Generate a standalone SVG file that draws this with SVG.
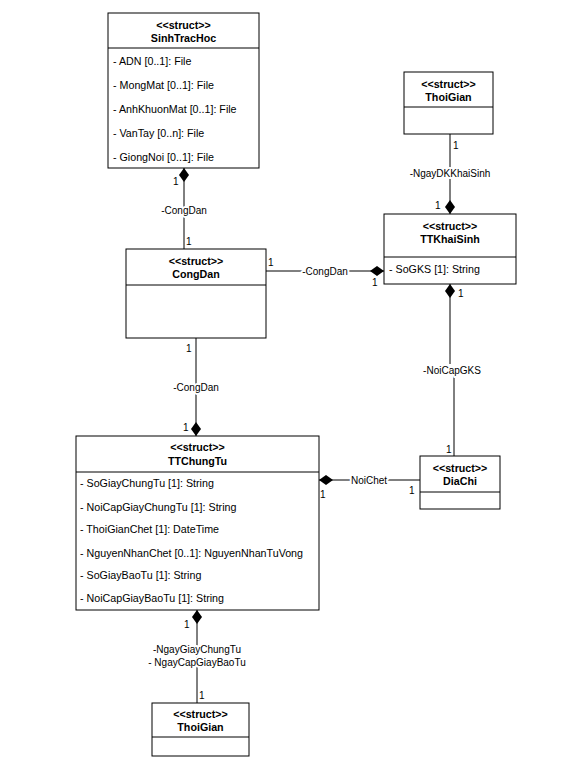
<svg xmlns="http://www.w3.org/2000/svg" width="575" height="775" viewBox="0 0 575 775">
<style>
text{font-family:"Liberation Sans",Arial,sans-serif;fill:#000}
.box{fill:#fff;stroke:#000;stroke-width:1}
.sep{stroke:#000;stroke-width:1}
.h{font-size:10.7px;font-weight:bold;text-anchor:middle}
.a{font-size:10.7px}
.l{font-size:10px;text-anchor:middle;stroke:#fff;stroke-width:4px;paint-order:stroke;stroke-linejoin:round}
.m{font-size:10px}
.c{fill:none;stroke:#000;stroke-width:1;marker-start:url(#dia)}
</style>
<defs>
<marker id="dia" viewBox="0 -5 14 10" markerWidth="14" markerHeight="10" refX="0" refY="0" orient="auto" markerUnits="userSpaceOnUse" overflow="visible">
<path d="M0,0 L7,-5 L14,0 L7,5 Z" fill="#000"/>
</marker>
</defs>
<rect width="575" height="775" fill="#fff"/>

<g id="connectors">
<path class="c" d="M184,168 L184,249"/>
<text class="l" x="184" y="214">-CongDan</text>
<text class="m" x="173" y="185">1</text>
<text class="m" x="186" y="245">1</text>

<path class="c" d="M384,271 L266,271"/>
<text class="l" x="325" y="275">-CongDan</text>
<text class="m" x="268" y="266">1</text>
<text class="m" x="372" y="286">1</text>

<path class="c" d="M450,214 L450,134"/>
<text class="l" x="450" y="177">-NgayDKKhaiSinh</text>
<text class="m" x="453" y="149">1</text>
<text class="m" x="435" y="209">1</text>

<path class="c" d="M450,284 L450,364 M454,376 L454,456"/>
<text class="l" x="452" y="374">-NoiCapGKS</text>
<text class="m" x="458" y="297">1</text>
<text class="m" x="446" y="453">1</text>

<path class="c" d="M196,436 L196,338"/>
<text class="l" x="196" y="391">-CongDan</text>
<text class="m" x="186" y="352">1</text>
<text class="m" x="183" y="431">1</text>

<path class="c" d="M319,480 L420,480"/>
<text class="l" x="369" y="484">NoiChet</text>
<text class="m" x="320" y="498">1</text>
<text class="m" x="409" y="494">1</text>

<path class="c" d="M197,610 L197,703"/>
<text class="l" x="197" y="653">-NgayGiayChungTu</text>
<text class="l" x="197" y="666">- NgayCapGiayBaoTu</text>
<text class="m" x="184" y="628">1</text>
<text class="m" x="199" y="699">1</text>
</g>

<g id="SinhTracHoc">
<rect class="box" x="108" y="13" width="151" height="155"/>
<line class="sep" x1="108" y1="48" x2="259" y2="48"/>
<text class="h" x="183.5" y="29">&lt;&lt;struct&gt;&gt;</text>
<text class="h" x="183.5" y="42">SinhTracHoc</text>
<text class="a" x="113" y="65">- ADN [0..1]: File</text>
<text class="a" x="113" y="89">- MongMat [0..1]: File</text>
<text class="a" x="113" y="113">- AnhKhuonMat [0..1]: File</text>
<text class="a" x="113" y="137">- VanTay [0..n]: File</text>
<text class="a" x="113" y="161">- GiongNoi [0..1]: File</text>
</g>

<g id="ThoiGian1">
<rect class="box" x="404" y="72" width="89" height="62"/>
<line class="sep" x1="404" y1="107" x2="493" y2="107"/>
<text class="h" x="448.5" y="88">&lt;&lt;struct&gt;&gt;</text>
<text class="h" x="448.5" y="101">ThoiGian</text>
</g>

<g id="TTKhaiSinh">
<rect class="box" x="384" y="214" width="132" height="70"/>
<line class="sep" x1="384" y1="257" x2="516" y2="257"/>
<text class="h" x="450" y="230">&lt;&lt;struct&gt;&gt;</text>
<text class="h" x="450" y="243">TTKhaiSinh</text>
<text class="a" x="389" y="273">- SoGKS [1]: String</text>
</g>

<g id="CongDan">
<rect class="box" x="126" y="249" width="140" height="89"/>
<line class="sep" x1="126" y1="285" x2="266" y2="285"/>
<text class="h" x="196" y="265">&lt;&lt;struct&gt;&gt;</text>
<text class="h" x="196" y="278">CongDan</text>
</g>

<g id="TTChungTu">
<rect class="box" x="76" y="436" width="243" height="174"/>
<line class="sep" x1="76" y1="472" x2="319" y2="472"/>
<text class="h" x="197.5" y="451">&lt;&lt;struct&gt;&gt;</text>
<text class="h" x="197.5" y="465">TTChungTu</text>
<text class="a" x="80" y="487">- SoGiayChungTu [1]: String</text>
<text class="a" x="80" y="511">- NoiCapGiayChungTu [1]: String</text>
<text class="a" x="80" y="533">- ThoiGianChet [1]: DateTime</text>
<text class="a" x="80" y="557">- NguyenNhanChet [0..1]: NguyenNhanTuVong</text>
<text class="a" x="80" y="579">- SoGiayBaoTu [1]: String</text>
<text class="a" x="80" y="602">- NoiCapGiayBaoTu [1]: String</text>
</g>

<g id="DiaChi">
<rect class="box" x="420" y="456" width="80" height="53"/>
<line class="sep" x1="420" y1="492" x2="500" y2="492"/>
<text class="h" x="460" y="472">&lt;&lt;struct&gt;&gt;</text>
<text class="h" x="460" y="485">DiaChi</text>
</g>

<g id="ThoiGian2">
<rect class="box" x="152" y="703" width="97" height="53"/>
<line class="sep" x1="152" y1="737" x2="249" y2="737"/>
<text class="h" x="200.5" y="718">&lt;&lt;struct&gt;&gt;</text>
<text class="h" x="200.5" y="731">ThoiGian</text>
</g>
</svg>
